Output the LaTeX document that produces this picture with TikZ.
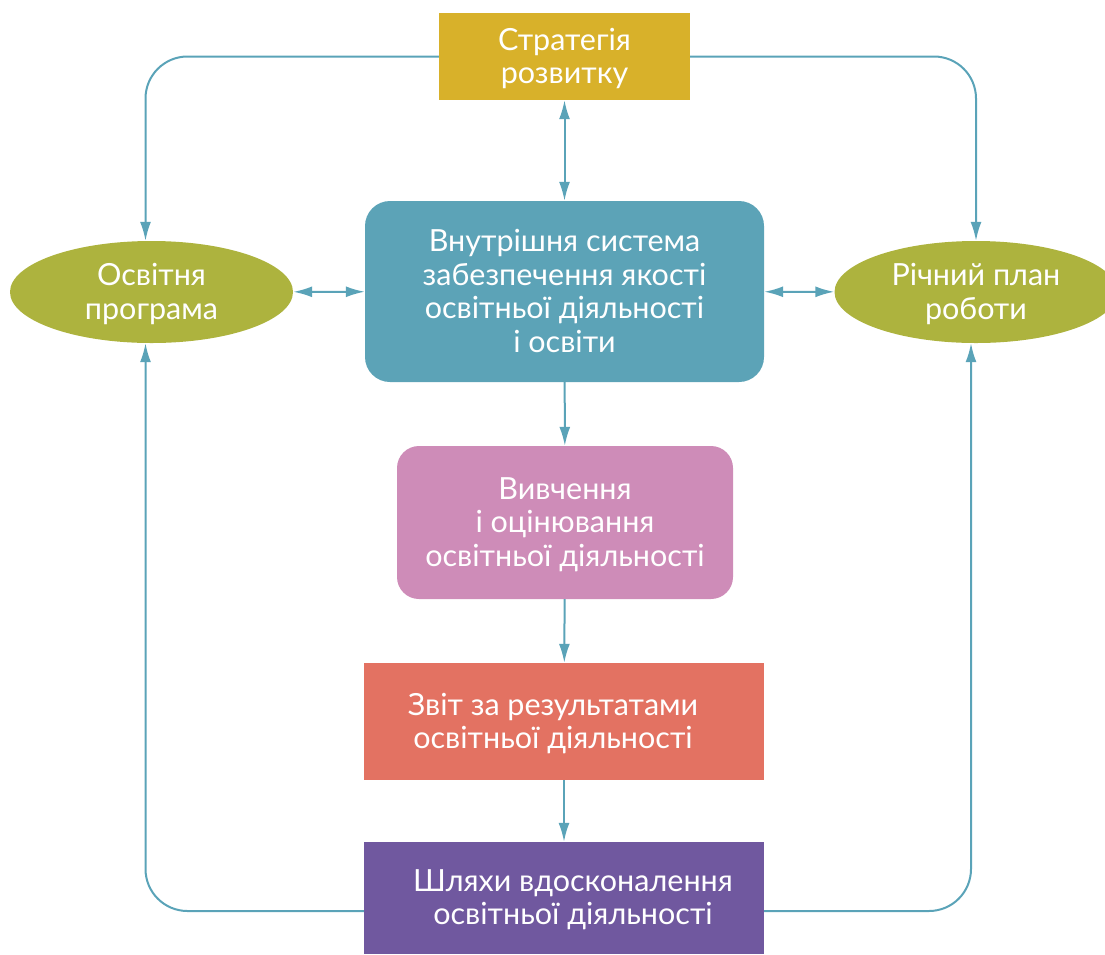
\documentclass[tikz,border=0pt]{standalone}
\usepackage{fontspec}
\setmainfont{Lato}
\usetikzlibrary{arrows.meta}
\usetikzlibrary{shapes.geometric}
\definecolor{gold}{HTML}{D8B12A}
\definecolor{teal}{HTML}{5CA3B7}
\definecolor{olive}{HTML}{ADB33E}
\definecolor{pink}{HTML}{CE8CB8}
\definecolor{coral}{HTML}{E37262}
\definecolor{purple}{HTML}{70589F}
\definecolor{linecol}{HTML}{5AA3B8}

\begin{document}
\begin{tikzpicture}[x=1pt, y=-1pt, >={Latex[length=19pt,width=11pt]},
      every node/.style={text=white, font=\fontsize{30.5}{33.5}\selectfont, align=center, inner sep=0pt, text depth=1.5pt},
      link/.style={draw=linecol, line width=2pt}]

   	\useasboundingbox (0,0) rectangle (1105,954);

   	\node[fill=gold, minimum width=251pt, minimum height=87pt] (strat) at (564.5,56.5) {Стратегія\\розвитку};

   	\node[fill=teal, rounded corners=25pt, minimum width=399pt, minimum height=181pt] (sys) at (564.5,291.5) {Внутрішня система\\забезпечення якості\\освітньої діяльності\\і освіти};

   	\draw[link, <->] (strat) -- (sys);

   	% LEFT SIDE
   	\node[ellipse, fill=olive, minimum width=283pt, minimum height=102pt] (prog) at (151.5,292) {Освітня\\програма};
   	\draw[link, <->] (prog) -- (sys);
   	\draw[link, ->, rounded corners=42pt] (strat.west) -| ([xshift=-6pt]prog.north);

   	% RIGHT SIDE
   	\node[ellipse, fill=olive, minimum width=283pt, minimum height=102pt] (plan) at (976,292) {Річний план\\роботи};
   	\draw[link, <->] (sys) -- (plan);
   	\draw[link, ->, rounded corners=42pt] (strat.east) -| (plan.north);

   	% MIDDLE
   	\node[fill=pink, rounded corners=22pt, minimum width=336pt, minimum height=153pt] (study) at (565,522.5) {Вивчення\\і оцінювання\\освітньої діяльності};
   	\draw[link, ->] (sys) -- (study);

   	\node[fill=coral, minimum width=400pt, minimum height=117pt, label={[xshift=-11pt]center:Звіт за результатами\\освітньої діяльності}] (report) at (564,721.5) {};
   	\draw[link, ->] (study) -- (report);

   	\node[fill=purple, minimum width=400pt, minimum height=112pt, label={[xshift=9pt]center:Шляхи вдосконалення\\освітньої діяльності}] (ways) at (564,898) {};
   	\draw[link, ->] (report) -- (ways);

   	% BACK TO THE PLANS
   	\draw[link, ->, rounded corners=42pt] ([yshift=-13pt]ways.west) -| ([xshift=-6pt]prog.south);
   	\draw[link, ->, rounded corners=42pt] ([yshift=-13pt]ways.east) -| ([xshift=-5pt]plan.south);
\end{tikzpicture}
\end{document}
